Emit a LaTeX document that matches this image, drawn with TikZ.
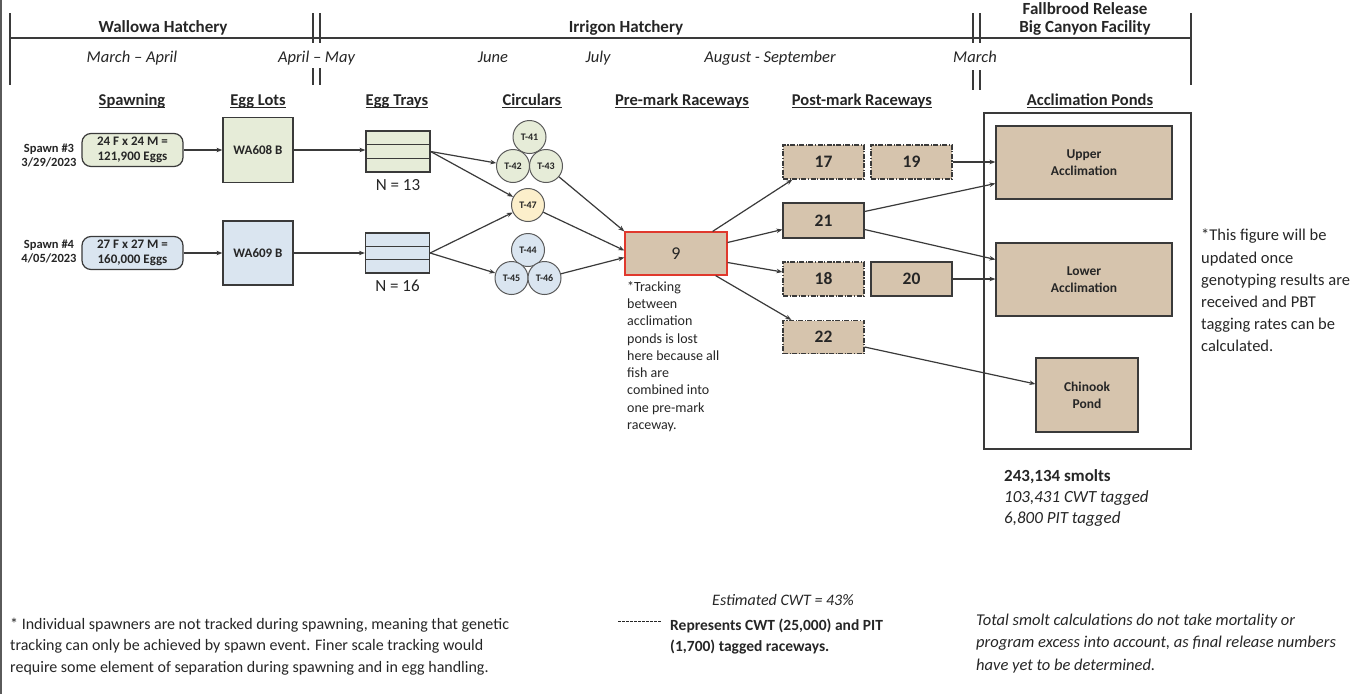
\documentclass[tikz,border=0pt]{standalone}
\usepackage{fontspec}
\setmainfont{Carlito}
\usetikzlibrary{arrows.meta,calc}
\definecolor{ink}{HTML}{262626}
\definecolor{lnc}{HTML}{3A3A3A}
\definecolor{gfill}{HTML}{E6ECD8}
\definecolor{bfill}{HTML}{DAE5F0}
\definecolor{yfill}{HTML}{FCEFCB}
\definecolor{tfill}{HTML}{D6C4AD}
\definecolor{redb}{HTML}{E0392D}
\definecolor{cbord}{HTML}{5A5A5A}
\tikzset{
  every node/.style={text=ink, inner sep=0pt},
  tl/.style={draw=lnc, line width=1.3pt},
  hdr/.style={font=\fontsize{17}{18}\selectfont\bfseries, anchor=base},
  datet/.style={font=\fontsize{16.5}{20}\selectfont\itshape, anchor=base},
  ulin/.style={draw=ink, line width=1.2pt},
  colhd/.style={font=\fontsize{16.5}{20}\selectfont\bfseries, anchor=base,
     append after command={([yshift=-2.5pt]\tikzlastnode.base west) edge[ulin] ([yshift=-2.5pt]\tikzlastnode.base east)}},
  spl/.style={font=\fontsize{12.5}{14}\selectfont\bfseries, align=center},
  obox/.style={draw=lnc, line width=1.2pt},
  spbox/.style={obox, rounded corners=9pt, minimum width=101pt, minimum height=33pt, font=\fontsize{13}{15}\selectfont\bfseries, align=center},
  lotbox/.style={obox, minimum width=70pt, font=\fontsize{13}{15}\selectfont\bfseries},
  traybox/.style={obox, minimum width=64pt},
  nlab/.style={font=\fontsize{17}{20}\selectfont},
  circ/.style={circle, draw=cbord, line width=1pt, minimum size=33pt, font=\fontsize{10}{11}\selectfont\bfseries},
  rw/.style={obox, fill=tfill, minimum width=81pt, minimum height=34pt, font=\fontsize{17.5}{20}\selectfont\bfseries},
  dd/.style={dash pattern=on 5pt off 1.5pt on 1.2pt off 1.5pt},
  pond/.style={obox, fill=tfill, font=\fontsize{13.5}{17}\selectfont\bfseries, align=center},
  arr/.style={draw=lnc, line width=1.2pt, -{Stealth[length=6pt,width=4.5pt]}},
  para/.style={anchor=north west, align=left}
}
\begin{document}
\begin{tikzpicture}[x=1pt,y=-1pt]
\useasboundingbox (0,0) rectangle (1358,694);
\fill[white] (0,0) rectangle (1358,694);
% page border
\draw[line width=2.5pt, draw=cbord] (1.2,0) -- (1.2,694);
% timeline
\draw[tl] (10,38) -- (1191,38);
\draw[tl] (10,13) -- (10,85);
\draw[tl] (1191,13) -- (1191,85);
\draw[tl] (313,13) -- (313,43) (320,13) -- (320,43) (313,68) -- (313,85) (320,68) -- (320,85);
\draw[tl] (973,13) -- (973,43) (980,13) -- (980,43) (973,70) -- (973,90) (980,70) -- (980,90);
% headers
\node[hdr] (hwal) at (163,32) {Wallowa Hatchery};
\node[hdr] (hirr) at (626,32) {Irrigon Hatchery};
\node[hdr] (hfal) at (1085,14) {Fallbrood Release};
\node[hdr] (hbig) at (1085,32) {Big Canyon Facility};
% dates
\node[datet] (d1) at (132,62) {March – April};
\node[datet] (d2) at (316.5,62) {April – May};
\node[datet] (d3) at (493,62) {June};
\node[datet] (d4) at (598,62) {July};
\node[datet] (d5) at (770,62) {August - September};
\node[datet] (d6) at (975,62) {March};
% column headings
\node[colhd] (c1) at (132,105) {Spawning};
\node[colhd] (c2) at (258,105) {Egg Lots};
\node[colhd] (c3) at (397,105) {Egg Trays};
\node[colhd] (c4) at (532,105) {Circulars};
\node[colhd] (c5) at (682,105) {Pre-mark Raceways};
\node[colhd] (c6) at (862,105) {Post-mark Raceways};
\node[colhd] (c7) at (1090,105) {Acclimation Ponds};
% spawning
\node[spl] (s3lab) at (49,156) {Spawn \#3\\3/29/2023};
\node[spl] (s4lab) at (49,252) {Spawn \#4\\4/05/2023};
\node[spbox, fill=gfill] (sp3) at (132.5,150) {24 F x 24 M =\\121,900 Eggs};
\node[spbox, fill=bfill] (sp4) at (132.5,253) {27 F x 27 M =\\160,000 Eggs};
% egg lots
\node[lotbox, fill=gfill, minimum height=65pt] (wa608) at (258,150) {WA608 B};
\node[lotbox, fill=bfill, minimum height=64pt] (wa609) at (258,253) {WA609 B};
% trays
\node[traybox, fill=gfill, minimum height=41pt] (tray1) at (398,151.5) {};
\node[traybox, fill=bfill, minimum height=40pt] (tray2) at (397.5,253) {};
\draw[obox] ($(tray1.north west)!1/3!(tray1.south west)$) -- ($(tray1.north east)!1/3!(tray1.south east)$)
            ($(tray1.north west)!2/3!(tray1.south west)$) -- ($(tray1.north east)!2/3!(tray1.south east)$);
\draw[obox] ($(tray2.north west)!1/3!(tray2.south west)$) -- ($(tray2.north east)!1/3!(tray2.south east)$)
            ($(tray2.north west)!2/3!(tray2.south west)$) -- ($(tray2.north east)!2/3!(tray2.south east)$);
\node[nlab] (n13) at (398,185) {N = 13};
\node[nlab] (n16) at (397.5,286) {N = 16};
% circulars
\node[circ, fill=gfill] (t41) at (529.5,137) {T-41};
\node[circ, fill=gfill] (t42) at (513,166) {T-42};
\node[circ, fill=gfill] (t43) at (546,166) {T-43};
\node[circ, fill=yfill] (t47) at (528,205) {T-47};
\node[circ, fill=bfill] (t44) at (528,250) {T-44};
\node[circ, fill=bfill] (t45) at (511.5,278) {T-45};
\node[circ, fill=bfill] (t46) at (544.5,278) {T-46};
% pre-mark raceway
\node[obox, draw=redb, fill=tfill, minimum width=102pt, minimum height=43pt, font=\fontsize{18}{20}\selectfont] (nine) at (676,253.5) {9};
\node[para, font=\fontsize{14}{17.3}\selectfont] (track) at (627,281) {*Tracking\\between\\acclimation\\ponds is lost\\here because all\\fish are\\combined into\\one pre-mark\\raceway.};
% post-mark raceways
\node[rw, dd] (p17) at (823.5,162) {17};
\node[rw, dd] (p19) at (911.5,162) {19};
\node[rw, minimum height=35pt] (p21) at (823.5,220.5) {21};
\node[rw, dd] (p18) at (823.5,279) {18};
\node[rw] (p20) at (911.5,279) {20};
\node[rw, dd, minimum height=33pt] (p22) at (823.5,337) {22};
% acclimation ponds
\node[obox, minimum width=207pt, minimum height=336pt] (frame) at (1087.5,281) {};
\node[pond, minimum width=176pt, minimum height=73pt] (upper) at (1084,162.5) {Upper\\Acclimation};
\node[pond, minimum width=176pt, minimum height=73pt] (lower) at (1084,279.5) {Lower\\Acclimation};
\node[pond, minimum width=102pt, minimum height=74pt] (chinook) at (1087,395) {Chinook\\Pond};
% connectors
\draw[arr] (sp3) -- (wa608);
\draw[arr] (sp4) -- (wa609);
\draw[arr] (wa608.east) -- (wa608.east -| tray1.west);
\draw[arr] (wa609.east) -- (wa609.east -| tray2.west);
\draw[arr] (tray1.east) -- (t42);
\draw[arr] (tray1.east) -- (t47);
\draw[arr] (tray2.east) -- (t47);
\draw[arr] (tray2.east) -- (t45);
\draw[arr] (t43) -- (nine.north west);
\draw[arr] (t47) -- ($(nine.west)+(0,-3)$);
\draw[arr] (t46) -- ($(nine.west)+(0,4)$);
\draw[arr] ($(nine.north east)+(-15,0)$) -- ($(p17.south west)+(10,0)$);
\draw[arr] ($(nine.east)+(0,-11)$) -- ($(p21.west)+(0,9)$);
\draw[arr] ($(nine.east)+(0,9)$) -- ($(p18.west)+(0,-7)$);
\draw[arr] ($(nine.south east)+(-12,0)$) -- ($(p22.north west)+(9,0)$);
\draw[arr] (p19.east) -- (p19.east -| upper.west);
\draw[arr] ($(p21.east)+(0,-9)$) -- ($(upper.west)+(0,21)$);
\draw[arr] ($(p21.east)+(0,9)$) -- ($(lower.west)+(0,-20)$);
\draw[arr] (p20.east) -- (p20.east -| lower.west);
\draw[arr] ($(p22.east)+(0,10)$) -- ($(chinook.west)+(0,-11)$);
% notes
\node[para, font=\fontsize{16.5}{22.2}\selectfont] (note) at (1201,229) {*This figure will be\\updated once\\genotyping results are\\received and PBT\\tagging rates can be\\calculated.};
\node[para, font=\fontsize{17}{21}\selectfont] (smolts) at (1004,469) {{\bfseries 243,134 smolts}\\{\itshape 103,431 CWT tagged}\\{\itshape 6,800 PIT tagged}};
\node[para, font=\fontsize{16}{21.5}\selectfont] (indiv) at (10,617.5) {* Individual spawners are not tracked during spawning, meaning that genetic\\tracking can only be achieved by spawn event. Finer scale tracking would\\require some element of separation during spawning and in egg handling.};
\node[anchor=base west, font=\fontsize{16}{20}\selectfont\itshape] (est) at (712,605) {Estimated CWT = 43\%};
\coordinate (lg1) at (618,621);
\coordinate (lg2) at (662,621);
\draw[draw=ink, line width=1pt, dash pattern=on 3pt off 1pt] (lg1) -- (lg2);
\node[para, font=\fontsize{15.5}{21.5}\selectfont\bfseries] (legend) at (670,618.5) {Represents CWT (25,000) and PIT\\(1,700) tagged raceways.};
\node[para, font=\fontsize{16.5}{22.5}\selectfont\itshape] (total) at (976,613.5) {Total smolt calculations do not take mortality or\\program excess into account, as final release numbers\\have yet to be determined.};
\end{tikzpicture}
\end{document}
